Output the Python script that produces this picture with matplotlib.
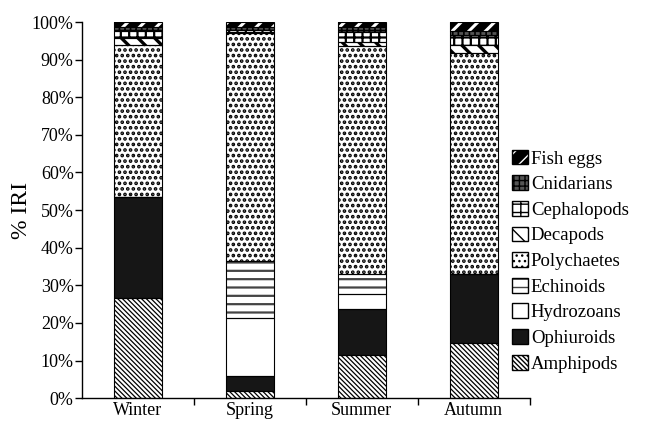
import matplotlib
matplotlib.use('Agg')
import matplotlib.pyplot as plt
import numpy as np
from matplotlib.patches import Patch
from matplotlib.ticker import FixedLocator, PercentFormatter

plt.rcParams['font.family'] = ['Liberation Serif', 'DejaVu Serif']
plt.rcParams['hatch.linewidth'] = 1.0

seasons = ['Winter', 'Spring', 'Summer', 'Autumn']
groups = ['Amphipods', 'Ophiuroids', 'Hydrozoans', 'Echinoids', 'Polychaetes',
          'Decapods', 'Cephalopods', 'Cnidarians', 'Fish eggs']

# % IRI per prey group, order: Winter, Spring, Summer, Autumn
amphipods   = [26.7, 1.8, 11.6, 14.7]
ophiuroids  = [26.9, 4.1, 12.2, 18.3]
hydrozoans  = [0.0, 15.5, 3.8, 0.0]
echinoids   = [0.0, 15.1, 5.4, 0.0]
polychaetes = [40.3, 60.5, 60.6, 58.7]
decapods    = [1.8, 0.4, 1.1, 2.2]
cephalopods = [1.8, 0.5, 2.7, 2.7]
cnidarians  = [1.2, 0.9, 1.2, 1.1]
fish_eggs   = [1.3, 1.2, 1.4, 2.3]

series = [amphipods, ophiuroids, hydrozoans, echinoids, polychaetes,
          decapods, cephalopods, cnidarians, fish_eggs]

# (facecolor, hatch, hatch colour, hatch linewidth)
styles = [
    ('white',   '\\' * 7,    'black', 0.9),
    ('#161616', None,        'black', 1.0),
    ('white',   None,        'black', 1.0),
    ('white',   '--',        '#444444', 1.6),
    ('white',   '...',       'black', 1.8),
    ('white',   '\\\\',      'black', 2.4),
    ('white',   '++',        'black', 1.6),
    ('#555555', '+++',       'black', 1.2),
    ('black',   '//',        'white', 2.2),
]

fig = plt.figure(figsize=(6.46, 4.24), dpi=100)
ax = fig.add_axes([0.127, 0.061, 0.693, 0.887])

x = np.arange(len(seasons))
width = 0.43
bottom = np.zeros(len(seasons))
handles = []
for vals, name, (fc, hatch, hc, hlw) in zip(series, groups, styles):
    bars = ax.bar(x, vals, width, bottom=bottom, color=fc, hatch=hatch,
                  edgecolor=hc, linewidth=0, zorder=2)
    for b in bars:
        try:
            b.set_hatch_linewidth(hlw)
        except AttributeError:
            pass
    # black outline drawn separately so hatch colour can differ
    ax.bar(x, vals, width, bottom=bottom, fill=False, edgecolor='black',
           linewidth=0.8, zorder=3)
    h = Patch(facecolor=fc, hatch=hatch, edgecolor=hc, linewidth=0)
    try:
        h.set_hatch_linewidth(hlw)
    except AttributeError:
        pass
    outline = Patch(fill=False, edgecolor='black', linewidth=1.0)
    handles.append((h, outline))
    bottom += np.array(vals)

ax.set_xlim(-0.5, 3.5)
ax.set_ylim(0, 100)
ax.yaxis.set_major_locator(FixedLocator(np.arange(0, 101, 10)))
ax.yaxis.set_major_formatter(PercentFormatter(decimals=0))
ax.set_xticks(x)
ax.set_xticklabels(seasons)
ax.xaxis.set_minor_locator(FixedLocator([0.5, 1.5, 2.5, 3.5]))
ax.tick_params(axis='x', which='major', length=0, pad=3, labelsize=13)
ax.tick_params(axis='x', which='minor', length=5, width=1, direction='out')
ax.tick_params(axis='y', length=5, width=1, direction='out', labelsize=13, pad=1)
for s in ['top', 'right']:
    ax.spines[s].set_visible(False)
ax.spines['left'].set_linewidth(1)
ax.spines['bottom'].set_linewidth(1)
ax.set_ylabel('% IRI', fontsize=17, labelpad=0)

leg = fig.legend(handles[::-1], groups[::-1], loc='upper left',
                 bbox_to_anchor=(0.781, 0.665), frameon=False, fontsize=13.5,
                 handlelength=0.85, handleheight=0.85, handletextpad=0.15,
                 labelspacing=0.41, borderaxespad=0)

fig.savefig('out.png', dpi=100)
